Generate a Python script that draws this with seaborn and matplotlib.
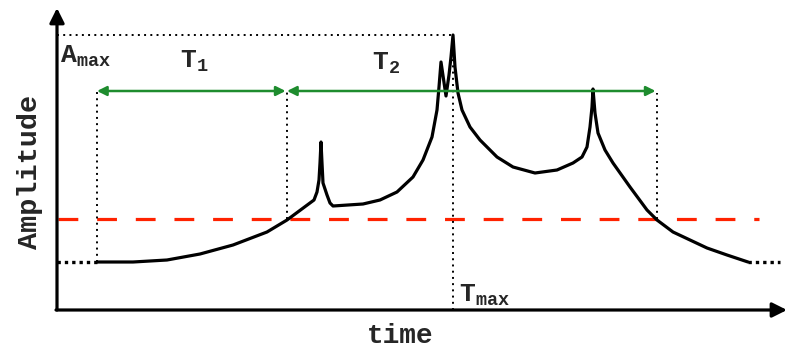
import matplotlib
matplotlib.use("Agg")
import matplotlib.pyplot as plt
import seaborn as sns
import pandas as pd

# ---- data (schematic units: time, amplitude) ----
time = [40, 76, 110, 143, 176, 210, 230, 257, 260, 262, 263, 264, 265, 266, 270, 273,
        276, 306, 323, 340, 356, 366, 375, 380, 382, 384, 389, 392, 394, 396, 398, 401,
        405, 413, 423, 440, 456, 478, 500, 516, 525, 530, 533, 535, 536, 538, 541, 548,
        556, 573, 590, 600, 616, 633, 650, 670, 691]
amplitude = [48, 48, 50, 56, 65, 78, 90, 110, 118, 130, 147, 168, 147, 127, 115, 107,
             104, 106, 110, 118, 133, 150, 173, 200, 223, 248, 214, 235, 253, 275, 243, 217,
             200, 183, 170, 153, 143, 137, 140, 147, 153, 163, 183, 203, 221, 197, 177, 160,
             147, 123, 100, 90, 78, 70, 62, 55, 48]
threshold = 91
a_max = 275
a_base = 48
t_start = 40
t_cross1 = 230
t_max = 396
t_cross2 = 600
t_end = 691
arrow_level = 219
x_axis_end = 730
y_axis_end = 302
xlabel = "time"
ylabel = "Amplitude"
label_amax = r"$\mathrm{A}_{\mathrm{max}}$"
label_t1 = r"$\mathrm{T}_{1}$"
label_t2 = r"$\mathrm{T}_{2}$"
label_tmax = r"$\mathrm{T}_{\mathrm{max}}$"

df = pd.DataFrame({"time": time, "amplitude": amplitude})

sns.set_style("white")
plt.rcParams["font.family"] = ["Liberation Mono", "DejaVu Sans"]
plt.rcParams["font.weight"] = "bold"
plt.rcParams["mathtext.fontset"] = "custom"
plt.rcParams["mathtext.rm"] = "Liberation Mono:bold"
plt.rcParams["mathtext.it"] = "Liberation Mono:bold"
plt.rcParams["mathtext.bf"] = "Liberation Mono:bold"

fig = plt.figure(figsize=(7.92, 3.48), dpi=100)
ax = fig.add_axes([0, 0, 1, 1])
ax.set_xlim(-57, 735)
ax.set_ylim(-38, 310)
ax.axis("off")

black = "black"
green = "#1e8c2e"
red = "#ff2200"

# axes with arrows
ax.annotate("", xy=(0, y_axis_end), xytext=(0, 0),
            arrowprops=dict(arrowstyle="-|>", lw=2.3, color=black, mutation_scale=22,
                            shrinkA=0, shrinkB=0))
ax.annotate("", xy=(x_axis_end, 0), xytext=(-1, 0),
            arrowprops=dict(arrowstyle="-|>", lw=2.3, color=black, mutation_scale=22,
                            shrinkA=0, shrinkB=0))

# threshold line
ax.plot([1, 702], [threshold, threshold], color=red, lw=2.3, dashes=(6.2, 5.9))

# dotted guides
dot = dict(color=black, lw=1.4, linestyle=(0, (1, 2.2)))
ax.plot([0, t_max], [a_max, a_max], **dot)
ax.plot([t_max, t_max], [0, a_max], **dot)
ax.plot([t_start, t_start], [a_base, arrow_level], **dot)
ax.plot([t_cross1, t_cross1], [threshold, arrow_level], **dot)
ax.plot([t_cross2, t_cross2], [threshold, arrow_level - 2], **dot)
thick_dot = dict(color=black, lw=2.4, linestyle=(0, (1, 1.2)))
ax.plot([0, t_start], [a_base, a_base], **thick_dot)
ax.plot([t_end, t_end + 32], [a_base, a_base], **thick_dot)

# signal curve
sns.lineplot(data=df, x="time", y="amplitude", ax=ax, color=black, lw=2.3,
             sort=False, estimator=None)
ax.lines[-1].set_solid_joinstyle("round")
ax.axis("off")

# period arrows
for a, b in [(t_start, t_cross1), (t_cross1, t_cross2)]:
    ax.annotate("", xy=(b, arrow_level), xytext=(a, arrow_level),
                arrowprops=dict(arrowstyle="<|-|>", lw=1.8, color=green,
                                mutation_scale=14, shrinkA=0, shrinkB=1))

# labels
fs = 19
ax.text(3, 247, label_amax, fontsize=fs, ha="left", va="baseline")
ax.text(123, 242, label_t1, fontsize=fs, ha="left", va="baseline")
ax.text(315, 240, label_t2, fontsize=fs, ha="left", va="baseline")
ax.text(402, 8, label_tmax, fontsize=fs, ha="left", va="baseline")
ax.text(343, -33, xlabel, fontsize=20, ha="center", va="baseline", fontweight="bold")
ax.text(-27, 138, ylabel, fontsize=20.5, ha="center", va="center", rotation=90,
        fontweight="bold")

fig.savefig("out.png", dpi=100)
